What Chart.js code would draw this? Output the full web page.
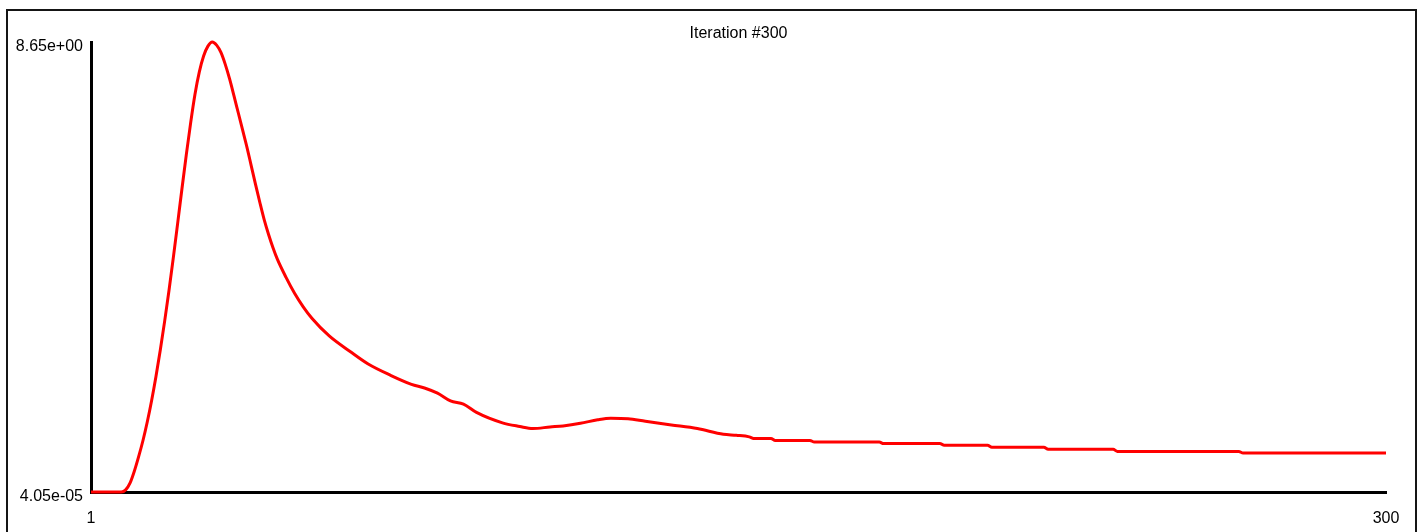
<!DOCTYPE html>
<html>
<head>
<meta charset="utf-8">
<script src="https://cdn.jsdelivr.net/npm/chart.js@4/dist/chart.umd.min.js"></script>
<style>
  html, body { margin: 0; padding: 0; background: #fff; overflow: hidden; }
  #wrap { position: relative; width: 1422px; height: 532px; }
  #frame {
    position: absolute; left: 6px; top: 9px; width: 1411px; height: 600px;
    border: 2px solid #151515; box-sizing: border-box; pointer-events: none;
  }
  canvas { position: absolute; left: 0; top: 0; }
</style>
</head>
<body>
<div id="wrap">
  <div id="frame"></div>
  <canvas id="chart" width="1422" height="532"></canvas>
</div>
<script>
// Iteration numbers and the tracked value at each of them
const iterations = [
  1, 8, 9, 10, 11, 12, 13, 14, 15, 16, 17, 18, 19, 20, 21, 22, 23, 24, 25, 26,
  27, 28, 29, 30, 31, 32, 33, 34, 35, 36, 37, 38, 39, 40, 41, 42, 43, 44, 46, 48,
  50, 52, 56, 61, 65, 70, 75, 78, 81, 84, 87, 90, 96, 100, 103, 107, 110, 114, 118, 121,
  125, 129, 135, 141, 147, 150,
  153, 154, 158, 159, 167, 168, 183, 184, 197, 198, 208, 209, 221, 222, 237, 238, 266, 267, 300
];
const values = [
  0.0000405, 0.0000405, 0.04, 0.17, 0.40, 0.68, 0.99, 1.35, 1.76, 2.22, 2.73, 3.28, 3.87, 4.50, 5.16, 5.83, 6.48, 7.09, 7.64, 8.07,
  8.38, 8.57, 8.65, 8.59, 8.45, 8.22, 7.94, 7.62, 7.29, 6.96, 6.63, 6.27, 5.91, 5.56, 5.23, 4.95, 4.70, 4.48, 4.13, 3.82,
  3.56, 3.34, 3.00, 2.69, 2.46, 2.25, 2.07, 2.00, 1.90, 1.75, 1.69, 1.53, 1.33, 1.26, 1.22, 1.25, 1.27, 1.32, 1.39, 1.42,
  1.41, 1.36, 1.29, 1.22, 1.11, 1.09,
  1.06, 1.03, 1.03, 0.99, 0.99, 0.96, 0.96, 0.93, 0.93, 0.90, 0.90, 0.86, 0.86, 0.82, 0.82, 0.78, 0.78, 0.75, 0.75
];

// Axis ticks: only the ends of each range are labelled
const xTicks = [1, 300];
const yTicks = [0.0000405, 8.65];
const yTickLabels = ['4.05e-05', '8.65e+00'];
const titleText = 'Iteration #300';

const points = iterations.map((it, i) => ({ x: it, y: values[i] }));
const font = { family: "'Liberation Sans', Arial, sans-serif", size: 16, weight: 'normal' };

new Chart(document.getElementById('chart'), {
  type: 'line',
  data: {
    datasets: [{
      data: points,
      borderColor: '#ff0000',
      borderWidth: 3,
      pointRadius: 0,
      cubicInterpolationMode: 'monotone',
      fill: false,
      clip: false
    }]
  },
  options: {
    responsive: false,
    animation: false,
    events: [],
    layout: { padding: { top: 26, right: 36, bottom: 0, left: 0 } },
    plugins: {
      legend: { display: false },
      tooltip: { enabled: false },
      title: {
        display: true,
        text: titleText,
        fullSize: false,
        color: '#000',
        font: { ...font, lineHeight: 1 },
        padding: { top: 0, bottom: 0 }
      }
    },
    scales: {
      x: {
        type: 'linear',
        min: 1,
        max: 300,
        grid: { display: false, drawTicks: false },
        border: { display: true, color: '#000', width: 3 },
        afterBuildTicks: (scale) => { scale.ticks = xTicks.map(v => ({ value: v })); },
        afterFit: (scale) => { scale.height = 40; },
        ticks: {
          color: '#000',
          font: font,
          padding: 17,
          maxRotation: 0,
          autoSkip: false,
          callback: (v) => String(v)
        }
      },
      y: {
        type: 'linear',
        min: yTicks[0],
        max: yTicks[1],
        grid: { display: false, drawTicks: false },
        border: { display: true, color: '#000', width: 3 },
        afterBuildTicks: (scale) => { scale.ticks = yTicks.map(v => ({ value: v })); },
        afterFit: (scale) => { scale.width = 91; },
        ticks: {
          color: '#000',
          font: font,
          padding: 8,
          labelOffset: 5,
          autoSkip: false,
          callback: (v, i) => yTickLabels[i]
        }
      }
    }
  }
});
</script>
</body>
</html>
